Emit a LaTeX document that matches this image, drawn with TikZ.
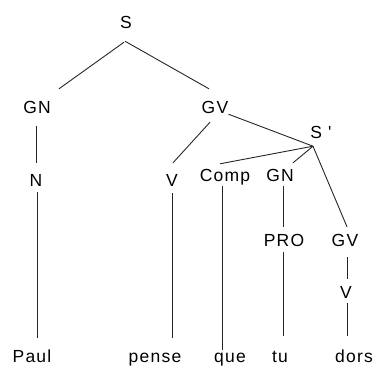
\documentclass[tikz,border=0pt]{standalone}
\usepackage{fontspec}
\newfontfamily\arbrefont[LetterSpace=7]{Liberation Sans}

\tikzset{
  cat/.style={anchor=base, inner sep=0pt, text height=12pt, text depth=0pt,
    font=\arbrefont\fontsize{17.5}{20}\selectfont},
  branche/.style={line width=0.9pt, draw=black!85},
}

\begin{document}
\begin{tikzpicture}[x=1pt,y=1pt,yscale=-1,xscale=1]
	\useasboundingbox (0,0) rectangle (375,367);
	% categories
	\draw (126,28) node [cat] (s) {S};
	\draw (37,113) node [cat] (gn) {GN};
	\draw (215,113) node [cat] (gv) {GV};
	\draw (36,186) node [cat] (n) {N};
	\draw (172,186) node [cat] (v) {V};
	\draw (321,138) node [cat] (sp) {S '};
	\draw (225,181) node [cat] (comp) {Comp};
	\draw (280,181) node [cat] (gnb) {GN};
	\draw (284,246) node [cat] (pro) {PRO};
	\draw (345,246) node [cat] (gvb) {GV};
	\draw (346,298) node [cat] (vb) {V};
	% words
	\draw (32,362) node [cat] (paul) {Paul};
	\draw (155,362) node [cat] (pense) {pense};
	\draw (230,362) node [cat] (que) {que};
	\draw (280,362) node [cat] (tu) {tu};
	\draw (354,362) node [cat] (dors) {dors};
	\coordinate (spj) at ([shift={(-8,8)}]sp.south);
	% branches
	\draw [branche] ([shift={(-2,14)}]s.south) -- ([shift={(22,-12)}]gn.north);
	\draw [branche] ([shift={(-1,13)}]s.south) -- ([shift={(-6,-12)}]gv.north);
	\draw [branche] ([shift={(-1,13)}]gn.south) -- ([shift={(0,-11)}]n.north);
	\draw [branche] ([shift={(-5,9)}]gv.south) -- ([shift={(1,-11)}]v.north);
	\draw [branche] ([shift={(0,1)}]gv.south east) -- (spj);
	\draw [branche] ([shift={(1,6)}]n.south) -- ([shift={(5,-12)}]paul.north);
	\draw [branche] ([shift={(0,7)}]v.south) -- ([shift={(17,-12)}]pense.north);
	\draw [branche] (spj) -- ([shift={(-5,-5)}]comp.north);
	\draw [branche] (spj) -- ([shift={(13,-6)}]gnb.north);
	\draw [branche] (spj) -- ([shift={(2,-7)}]gvb.north);
	\draw [branche] ([shift={(-3,5)}]comp.south) -- ([shift={(-8,0)}]que.north);
	\draw [branche] ([shift={(3,5)}]gnb.south) -- ([shift={(-1,-7)}]pro.north);
	\draw [branche] ([shift={(-1,6)}]pro.south) -- ([shift={(3,-14)}]tu.north);
	\draw [branche] ([shift={(2,11)}]gvb.south) -- ([shift={(1,-7)}]vb.north);
	\draw [branche] ([shift={(1,5)}]vb.south) -- ([shift={(-7,-14)}]dors.north);
\end{tikzpicture}
\end{document}
